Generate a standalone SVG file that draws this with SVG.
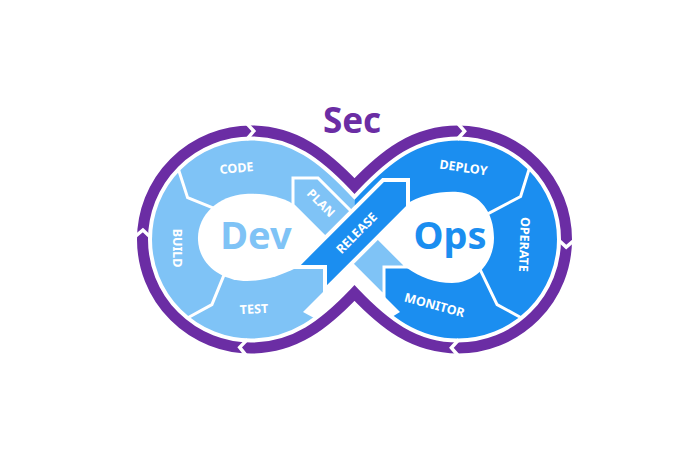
<svg xmlns="http://www.w3.org/2000/svg" width="700" height="466" viewBox="0 0 700 466">
<style>
.light{fill:#7fc3f6}
.dark{fill:#1b8ef0}
.hole{fill:#fff}
.sep{fill:none;stroke:#fff;stroke-width:3;stroke-linejoin:miter;stroke-linecap:butt}
.arrow{stroke:#fff;stroke-width:3;stroke-linejoin:miter}
.ring{fill:none;stroke:#6b2da4;stroke-width:11;stroke-linejoin:miter}
.ringgap{fill:none;stroke:#fff;stroke-width:19;stroke-linejoin:miter}
.cut{fill:none;stroke:#fff;stroke-width:3.5;stroke-linejoin:miter}
.lbl{font-family:"Noto Sans","DejaVu Sans",sans-serif;font-weight:700;font-size:12.5px;fill:#fff;text-anchor:middle;dominant-baseline:central}
.big{font-family:"Noto Sans","DejaVu Sans",sans-serif;font-weight:700;font-size:38px;text-anchor:middle}
</style>
<rect width="700" height="466" fill="#fff"/>
<g id="dev-lobe">
<path class="light" d="M354.5,186 C325,155 295,131 251,131 A108.5 108.5 0 0 0 251,348 C295,348 325,324 354.5,293 Z"/>
<path class="hole" d="M293,204 L335,240 L296,268 C282,275 265,281 247,281 C222,281 199,265 198,240 C197,215 218,196 245,194 C262,193 280,196 293,204 Z"/>
<polyline class="sep" points="178.4,169.3 187.6,197.6 222.2,211.7"/>
<polyline class="sep" points="187.4,318 211.9,304.6 225.8,270.6"/>
</g>
<g id="ops-lobe">
<path class="dark" d="M354.5,186 C384,155 414,131 458,131 A108.5 108.5 0 0 1 458,348 C414,348 384,324 354.5,293 Z"/>
<path class="hole" d="M405,205 C420,195 440,191 458,192 C480,194 494,212 494,238 C494,262 476,283 452,283 C435,283 420,277 407,268 L370,238 L395,215 Z"/>
<polyline class="sep" points="529.4,168.1 520.6,196.5 479.2,218.3"/>
<polyline class="sep" points="521.6,318 497.1,304.6 476.9,262.8"/>
</g>
<polygon id="bottom-gap" fill="#fff" points="351.5,263.5 400,312 354.5,340 303,312"/>
<g id="plan">
<polygon class="light arrow" points="293,178 318,178 407,267 384,267 384,296 293,205"/>
</g>
<g id="release">
<polygon class="dark arrow" style="stroke-width:4" points="296,267 383,180 408,180 408,207 325,290 325,267"/>
</g>
<g id="sec-ring">
<path class="ringgap" d="M354.5,186 C325,155 295,131 251,131 A108.5 108.5 0 0 0 251,348 C295,348 325,324 354.5,293 C384,324 414,348 458,348 A108.5 108.5 0 0 0 458,131 C414,131 384,155 354.5,186 Z"/>
<path class="ring" d="M354.5,186 C325,155 295,131 251,131 A108.5 108.5 0 0 0 251,348 C295,348 325,324 354.5,293 C384,324 414,348 458,348 A108.5 108.5 0 0 0 458,131 C414,131 384,155 354.5,186 Z"/>
<polyline class="cut" points="245.9,122.6 253.8,131 246.6,139.6"/>
<polyline class="cut" points="134,237.5 142.9,230 151,237.8"/>
<polyline class="cut" points="246.9,356.4 239.7,347.4 247.5,339.4"/>
<polyline class="cut" points="457,122.5 464.6,131.2 457.1,139.5"/>
<polyline class="cut" points="575,239.5 566.2,247.1 558,239.5"/>
<polyline class="cut" points="459,356.5 451.4,347.8 458.9,339.5"/>
</g>
<g id="labels">
<text class="lbl" transform="translate(236.5,168) rotate(-5)">CODE</text>
<text class="lbl" transform="translate(321,203) rotate(45)">PLAN</text>
<text class="lbl" transform="translate(356.5,233) rotate(-45)">RELEASE</text>
<text class="lbl" transform="translate(177,248) rotate(90)">BUILD</text>
<text class="lbl" transform="translate(254,309) rotate(-3)">TEST</text>
<text class="lbl" transform="translate(463.5,167.5) rotate(8)">DEPLOY</text>
<text class="lbl" transform="translate(524.5,244.5) rotate(92)">OPERATE</text>
<text class="lbl" transform="translate(434.5,305) rotate(15)">MONITOR</text>
</g>
<text class="big" x="256" y="249" fill="#7fc3f6">Dev</text>
<text class="big" x="450" y="249" fill="#1b8ef0">Ops</text>
<text x="352" y="133" fill="#6b2da4" style="font-family:'Noto Sans','DejaVu Sans',sans-serif;font-weight:700;font-size:35px;text-anchor:middle">Sec</text>
</svg>
